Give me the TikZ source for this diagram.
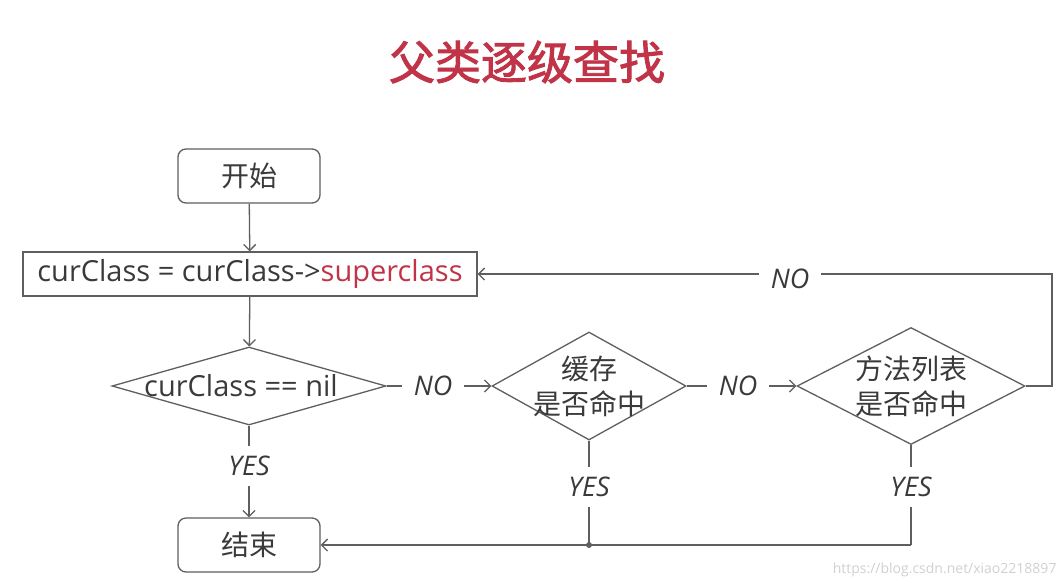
\documentclass[tikz,border=0pt]{standalone}
\usepackage{fontspec}
\setmainfont{Open Sans}
\newfontfamily\cjk{Noto Sans CJK SC}
\newfontfamily\ttlfont[FakeBold=2]{Noto Sans CJK SC}
\usetikzlibrary{arrows.meta,shapes.geometric}
\definecolor{ttred}{RGB}{193,52,72}
\definecolor{ink}{RGB}{58,58,58}
\definecolor{ln}{RGB}{95,95,95}
\tikzset{
  bx/.style={rectangle,draw=ln,line width=1.3pt,inner sep=0pt,text=ink,font=\fontsize{29}{32}\selectfont},
  rbx/.style={bx,rounded corners=8pt,font=\cjk\fontsize{28}{30}\selectfont},
  dia/.style={diamond,draw=ln,line width=1.3pt,inner sep=0pt},
  txt/.style={text=ink,font=\fontsize{29}{35}\selectfont,align=center,inner sep=0pt},
  ctxt/.style={txt,font=\cjk\fontsize{28}{35}\selectfont},
  yn/.style={text=ink,font=\itshape\fontsize{27}{29}\selectfont,inner xsep=12pt,inner ysep=10pt},
  lnk/.style={draw=ln,line width=1.3pt},
  msg/.style={lnk,-{Straight Barb[length=6pt,width=12pt]}},
}
\begin{document}
\begin{tikzpicture}[x=1pt,y=-1pt]
\useasboundingbox[fill=white] (0,0) rectangle (1064,587);
\node[font=\ttlfont\fontsize{46}{50}\selectfont,text=ttred] (title) at (527,62) {父类逐级查找};
% ---------------- main column
\node[rbx,minimum width=142pt,minimum height=54pt] (start) at (249,176) {开始};
\node[bx,minimum width=454pt,minimum height=44pt] (upd) at (250,274)
  {curClass = curClass->\textcolor{ttred}{superclass}};
\node[dia,minimum width=274pt,minimum height=78pt] (d1) at (249,386) {};
\node[txt,xshift=-8pt] at (d1.center) {curClass == nil};
\node[rbx,minimum width=142pt,minimum height=54pt] (stop) at (249,545) {结束};
% ---------------- lookups
\node[dia,minimum width=194pt,minimum height=108pt] (d2) at (589,386) {};
\node[ctxt] at (d2.center) {缓存\\是否命中};
\node[dia,minimum width=228pt,minimum height=117pt] (d3) at (911,386) {};
\node[ctxt] at (d3.center) {方法列表\\是否命中};
% ---------------- labels
\node[yn] (no1) at (433,386) {NO};
\node[yn] (no2) at (738,386) {NO};
\node[yn] (no3) at (790,279) {NO};
\node[yn] (yes1) at (249,466) {YES};
\node[yn] (yes2) at (589,487) {YES};
\node[yn] (yes3) at (911,487) {YES};
\coordinate (k1) at (1052,386);
\coordinate (k2) at (1052,274);
\coordinate (j2) at (589,545);
\coordinate (j3) at (911,545);
% ---------------- connectors
\draw[msg] (start) -- (upd);
\draw[msg] (upd) -- (d1);
\draw[lnk] (d1.east) -- (no1);
\draw[msg] (no1) -- (d2.west);
\draw[lnk] (d2.east) -- (no2);
\draw[msg] (no2) -- (d3.west);
\draw[lnk] (d3.east) -- (k1) -- (k2) -- (no3.east |- k2);
\draw[msg] (no3.west |- k2) -- (upd.east);
\draw[lnk] (d1.south) -- (yes1);
\draw[msg] (yes1) -- (stop);
\draw[lnk] (d2.south) -- (yes2);
\draw[lnk] (yes2) -- (j2);
\draw[lnk] (d3.south) -- (yes3);
\draw[lnk] (yes3) -- (j3);
\draw[msg] (j3) -- (stop.east);
\fill[ln] (j2) circle (3pt);
\node[text=black!18,font=\fontsize{14}{16}\selectfont,anchor=east] (wm) at (1060,570) {https://blog.csdn.net/xiao2218897};
\end{tikzpicture}
\end{document}
